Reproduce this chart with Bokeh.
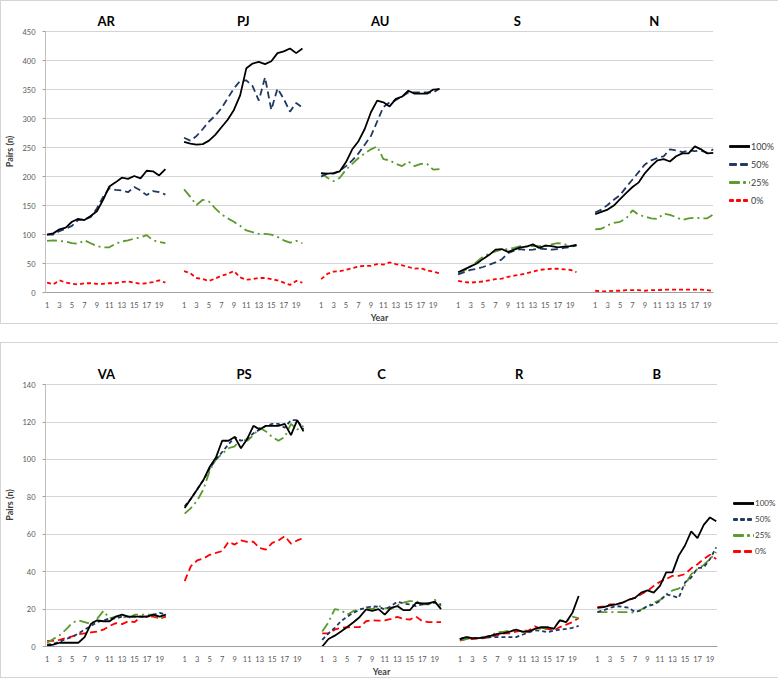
from bokeh.plotting import figure
from bokeh.models import Range1d, FixedTicker, Legend, LegendItem, Spacer
from bokeh.layouts import column
from bokeh.core.properties import value
from bokeh.embed import file_html
from bokeh.resources import INLINE

# ---------------- data ----------------
years = list(range(1, 21))
series = ["100%", "50%", "25%", "0%"]

top_groups = ["AR", "PJ", "AU", "S", "N"]
bottom_groups = ["VA", "PS", "C", "R", "B"]

AR = {
    "100%": [100, 102, 109, 112, 122, 127, 125, 132, 140, 160, 183, 190, 198, 196, 201, 197, 210, 209, 202, 213],
    "50%": [100, 100, 106, 110, 115, 125, 126, 130, 145, 165, 180, 177, 176, 173, 182, 176, 168, 175, 173, 169],
    "25%": [89, 90, 89, 88, 85, 84, 90, 85, 80, 78, 78, 84, 88, 90, 93, 95, 99, 90, 87, 85],
    "0%": [17, 14, 21, 17, 15, 14, 16, 16, 15, 15, 16, 16, 18, 19, 17, 15, 16, 18, 21, 17],
}
PJ = {
    "100%": [260, 257, 255, 256, 262, 272, 285, 298, 315, 340, 387, 395, 398, 394, 399, 413, 416, 421, 413, 421],
    "50%": [267, 262, 270, 282, 295, 305, 318, 335, 352, 365, 366, 356, 331, 371, 315, 352, 334, 312, 327, 319],
    "25%": [178, 165, 151, 160, 157, 145, 135, 128, 122, 115, 107, 104, 101, 101, 100, 96, 90, 86, 89, 85],
    "0%": [37, 33, 25, 23, 20, 24, 29, 32, 37, 26, 22, 23, 25, 25, 23, 21, 17, 13, 20, 17],
}
AU = {
    "100%": [206, 205, 206, 209, 225, 247, 261, 282, 311, 331, 328, 321, 334, 338, 348, 343, 343, 343, 350, 351],
    "50%": [200, 205, 205, 210, 218, 228, 240, 255, 270, 295, 320, 328, 332, 338, 345, 345, 345, 345, 345, 352],
    "25%": [206, 198, 192, 198, 212, 222, 232, 240, 247, 252, 230, 228, 222, 218, 226, 218, 222, 222, 212, 213],
    "0%": [23, 32, 36, 37, 39, 42, 45, 46, 46, 49, 48, 52, 49, 47, 44, 41, 42, 38, 36, 33],
}
S = {
    "100%": [35, 40, 45, 50, 58, 65, 74, 75, 70, 74, 78, 79, 83, 77, 81, 80, 78, 79, 80, 82],
    "50%": [31, 35, 39, 41, 44, 48, 52, 57, 68, 72, 75, 73, 74, 76, 75, 74, 75, 77, 78, 82],
    "25%": [32, 38, 45, 53, 62, 67, 71, 74, 75, 77, 80, 80, 80, 80, 81, 83, 85, 84, 80, 80],
    "0%": [20, 18, 17, 18, 19, 21, 23, 24, 27, 29, 31, 33, 36, 39, 40, 41, 41, 40, 39, 35],
}
N = {
    "100%": [135, 139, 143, 150, 161, 172, 182, 190, 206, 218, 228, 230, 226, 235, 240, 240, 252, 247, 240, 241],
    "50%": [138, 143, 151, 160, 168, 182, 195, 208, 221, 228, 232, 235, 247, 245, 242, 245, 244, 245, 241, 247],
    "25%": [109, 110, 116, 120, 122, 128, 142, 134, 131, 128, 127, 136, 134, 130, 125, 128, 129, 128, 128, 135],
    "0%": [3, 2, 2, 3, 3, 4, 4, 4, 3, 4, 4, 5, 5, 5, 5, 5, 5, 5, 4, 3],
}
VA = {
    "100%": [0.5, 1, 2, 2, 2, 2, 5, 12, 14, 13.5, 13.5, 16, 17, 16, 16, 16, 16, 17, 16, 17],
    "50%": [1, 1.5, 2.5, 4, 5, 7, 9, 11, 13, 14, 15, 15, 16, 16, 16, 16, 16, 17, 18, 17],
    "25%": [2, 4, 6, 9, 12.6, 14, 13, 12, 14.8, 19, 15, 16, 16, 15, 17, 17, 17, 17, 15, 16],
    "0%": [3, 3, 3.6, 4.5, 5.4, 6.5, 7, 7.5, 8, 9, 11, 12.5, 12, 13.5, 13, 16, 16, 16, 15, 16],
}
PS = {
    "100%": [74, 79, 84, 89, 96, 101, 110, 110, 112, 106, 111, 118, 116, 118, 118, 118, 119, 113, 121, 115],
    "50%": [75, 79, 84, 89, 95, 100, 104, 108, 112, 110, 111, 114, 116, 118, 119, 119, 117, 121, 121, 116],
    "25%": [71, 74, 78, 84, 94, 100, 103, 106, 107, 111, 110, 113, 117, 115, 112, 110, 112, 119, 116, 118],
    "0%": [35, 43, 46, 47, 49, 50, 51, 56, 54.5, 56.7, 56, 56, 52.6, 51.8, 55.4, 56.7, 59, 55, 56.7, 58],
}
C = {
    "100%": [0, 4, 5.8, 8, 10.4, 13, 15.8, 19.8, 19, 20, 17, 20.7, 21.6, 19.4, 19.4, 23.4, 23, 23, 24, 20],
    "50%": [3.6, 7, 10, 13.5, 16, 18, 19.8, 20.7, 21.6, 21.2, 19.8, 21.6, 24, 23, 22.5, 21.6, 22.5, 23, 23.4, 22.5],
    "25%": [8, 13, 20, 19.4, 17, 19, 19.8, 21, 20, 21.6, 20.7, 20, 22, 23.4, 24.3, 24.3, 22.5, 22.5, 25, 21.6],
    "0%": [7, 7, 9, 10, 10.3, 10.3, 10.4, 13.5, 14, 13.8, 14, 14.8, 15.8, 14.8, 14.4, 16, 13.5, 13, 13, 13],
}
R = {
    "100%": [4, 5, 4.5, 4.5, 5, 5.8, 6.8, 7.2, 8, 9, 8, 8, 9.4, 10.3, 10.4, 9.4, 14, 13, 18, 27],
    "50%": [4, 5, 4.5, 4.5, 4.5, 5, 5, 5, 5, 5, 6.3, 7.6, 8.6, 8.4, 7.6, 8.4, 9, 9.4, 10, 11],
    "25%": [3.6, 4, 4.5, 4.5, 5, 6, 7.6, 8, 8.5, 9, 7.8, 8, 9.4, 10, 9.4, 10, 14, 13.5, 16, 15],
    "0%": [3.2, 4, 4, 4.2, 4.5, 5.4, 6, 7, 7, 8, 8.5, 8.5, 10.8, 9.4, 9.4, 8.6, 10.4, 11.7, 13, 15.3],
}
B = {
    "100%": [20.7, 21, 22, 22.5, 23.4, 25, 26, 28.8, 30, 28.8, 32.4, 39.6, 39.6, 48.6, 54, 61.6, 58, 65, 69, 67],
    "50%": [18.4, 19.4, 20.7, 21.6, 21.2, 20.7, 18.4, 19.4, 21.6, 22.5, 24.3, 27.9, 27, 26, 34.2, 36.9, 41.8, 42.3, 46.8, 53],
    "25%": [18.4, 18.4, 18.4, 18.4, 18.4, 18.4, 18, 19.8, 21.6, 23.4, 24.8, 27.9, 30, 31, 32.8, 38.7, 41.4, 43.6, 46.8, 50.4],
    "0%": [21, 21.4, 22.5, 22.5, 23.4, 25, 26, 27.9, 29.7, 32.4, 34.6, 36, 37.8, 37.8, 38.7, 41.8, 44, 46.8, 49, 46.8],
}

top_data = [AR, PJ, AU, S, N]
bottom_data = [VA, PS, C, R, B]
top_yticks = list(range(0, 451, 50))
bottom_yticks = list(range(0, 141, 20))
x_tick_years = [1, 3, 5, 7, 9, 11, 13, 15, 17, 19]

# ---------------- styling ----------------
FONT = "Lato"
SLOT = 22  # category slots per group (20 years + 2 blanks)
EXTRA = 21  # px of frame kept above the top tick for the group titles

top_styles = {
    "100%": dict(color="#000000", dash="solid"),
    "50%": dict(color="#1F3864", dash="7 4"),
    "25%": dict(color="#5B9A2B", dash="10 4 2 4"),
    "0%": dict(color="#FF0000", dash="4 3"),
}
bottom_styles = {
    "100%": dict(color="#000000", dash="solid"),
    "50%": dict(color="#1F3864", dash="4 3"),
    "25%": dict(color="#5B9A2B", dash="10 4 2 4"),
    "0%": dict(color="#FF0000", dash="7 4"),
}


def make_panel(groups, data, yticks, ymax, styles, border_top, plot_h, border_bottom,
               frame_w, right_edge, legend_loc, legend_spacing, legend_font):
    total_w = 762
    y_end = ymax * (plot_h + EXTRA) / plot_h
    p = figure(frame_width=frame_w, frame_height=plot_h + EXTRA,
               output_backend="svg", toolbar_location=None,
               x_range=Range1d(-0.25, right_edge), y_range=Range1d(0, y_end),
               min_border_left=35, min_border_top=border_top,
               min_border_bottom=border_bottom,
               min_border_right=total_w - 35 - frame_w)
    p.outline_line_color = None
    p.background_fill_color = "white"
    p.border_fill_color = "white"
    p.styles = {"border": "1px solid #d4d4d4", "box-sizing": "border-box"}

    # x axis ticks: odd years under each group
    ticks, overrides = [], {}
    for g in range(len(groups)):
        for yr in x_tick_years:
            t = g * SLOT + (yr - 1)
            ticks.append(t)
            overrides[t] = str(yr)
    p.xaxis.ticker = FixedTicker(ticks=ticks)
    p.xaxis.major_label_overrides = overrides
    p.xaxis.axis_label = "Year"
    p.xaxis.axis_label_text_font = FONT
    p.xaxis.axis_label_text_font_style = "bold"
    p.xaxis.axis_label_text_font_size = "9px"
    p.xaxis.axis_label_text_color = "#404040"
    p.xaxis.axis_label_standoff = 1
    p.xaxis.major_label_text_font = FONT
    p.xaxis.major_label_text_font_size = "7.5px"
    p.xaxis.major_label_text_color = "#595959"
    p.xaxis.major_label_standoff = 3
    p.xaxis.major_tick_line_color = None
    p.xaxis.minor_tick_line_color = None
    p.xaxis.axis_line_color = "#a0a0a0"

    p.yaxis.ticker = FixedTicker(ticks=yticks)
    p.yaxis.bounds = (0, ymax)
    p.yaxis.axis_label = "Pairs (n)"
    p.yaxis.axis_label_text_font = FONT
    p.yaxis.axis_label_text_font_style = "bold"
    p.yaxis.axis_label_text_font_size = "9px"
    p.yaxis.axis_label_text_color = "#404040"
    p.yaxis.axis_label_standoff = 4
    p.yaxis.major_label_text_font = FONT
    p.yaxis.major_label_text_font_size = "7.5px"
    p.yaxis.major_label_text_color = "#595959"
    p.yaxis.major_label_standoff = 7
    p.yaxis.major_tick_out = 3
    p.yaxis.major_tick_in = 0
    p.yaxis.major_tick_line_color = "#a0a0a0"
    p.yaxis.minor_tick_line_color = None
    p.yaxis.axis_line_color = "#c0c0c0"

    p.xgrid.grid_line_color = None
    p.ygrid.grid_line_color = "#a8a8a8"
    p.ygrid.grid_line_dash = "1 1"
    p.ygrid.grid_line_width = 1

    renderers = {s: [] for s in series}
    title_x, title_y = [], []
    for g, (name, d) in enumerate(zip(groups, data)):
        xs = [g * SLOT + (yr - 1) for yr in years]
        for s in reversed(series):
            st = styles[s]
            r = p.line(xs, d[s], line_color=st["color"], line_width=1.8,
                       line_dash=st["dash"])
            renderers[s].append(r)
        title_x.append(g * SLOT + 9.5)
        title_y.append(ymax * (plot_h + 11) / plot_h)
    p.text(x=title_x, y=title_y, text=groups, text_align="center",
           text_baseline="middle", text_font=value(FONT), text_font_style="bold",
           text_font_size="13px", text_color="#000000")

    items = [LegendItem(label=s, renderers=renderers[s]) for s in series]
    legend = Legend(items=items, location=legend_loc, orientation="vertical",
                    label_text_font=FONT, label_text_font_size=legend_font,
                    label_text_color="#404040", glyph_width=21, glyph_height=12,
                    label_height=12, label_standoff=1, spacing=legend_spacing,
                    padding=0, margin=0, border_line_color=None,
                    background_fill_alpha=0)
    p.add_layout(legend, "right")
    return p


# top: figure y 8..326, 450-line at y=33, axis at y=292
top = make_panel(top_groups, top_data, top_yticks, 450, top_styles,
                 border_top=9, plot_h=259, border_bottom=29, frame_w=666,
                 right_edge=107.0, legend_loc=(16, 86), legend_spacing=6,
                 legend_font="9px")
# bottom: figure y 344..671, 140-line at y=385, axis at y=645
bottom = make_panel(bottom_groups, bottom_data, bottom_yticks, 140, bottom_styles,
                    border_top=20, plot_h=260, border_bottom=26, frame_w=670,
                    right_edge=107.2, legend_loc=(16, 89), legend_spacing=4,
                    legend_font="8px")

layout = column(top, Spacer(width=762, height=18), bottom)

with open("out.html", "w") as f:
    f.write(file_html(layout, INLINE))
